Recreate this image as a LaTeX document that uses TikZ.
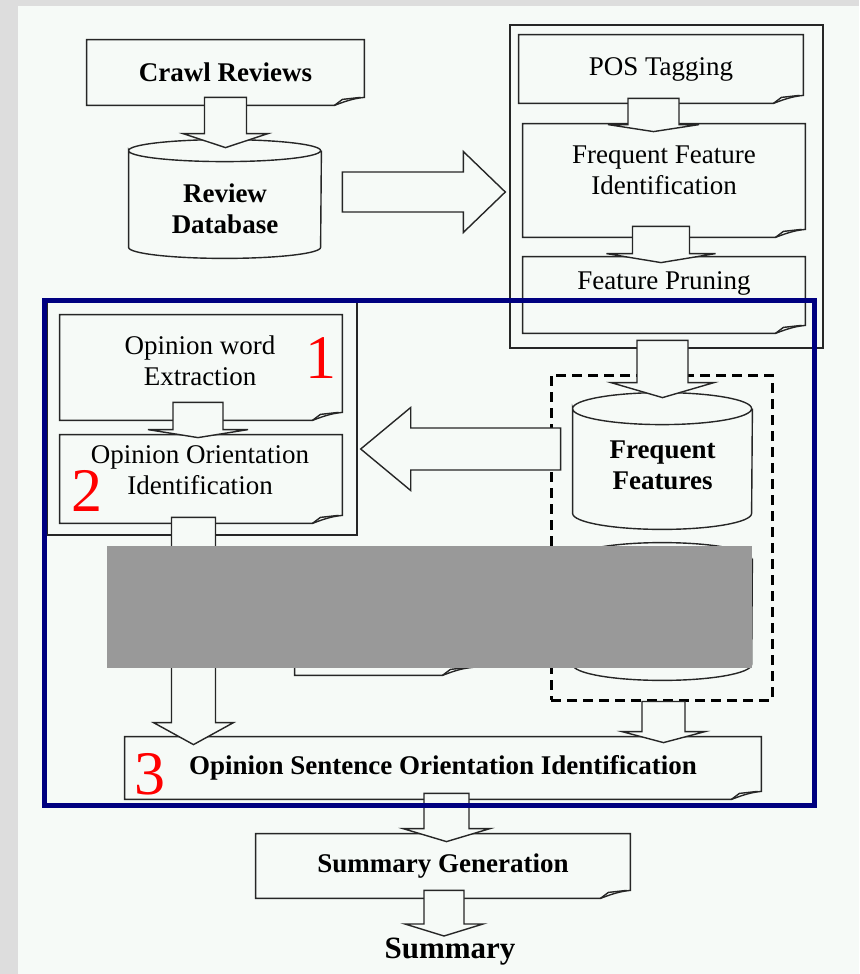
\documentclass[tikz,border=0pt]{standalone}
\usepackage{fontspec}
\setmainfont{Liberation Serif}
\usetikzlibrary{calc}
\definecolor{canvas}{RGB}{246,250,247}
\definecolor{frame}{RGB}{221,221,221}
\definecolor{navy}{RGB}{0,0,128}
\definecolor{maskgray}{RGB}{153,153,153}

\begin{document}
\begin{tikzpicture}[x=0.5pt, y=-0.5pt,
  every node/.style={font=\fontsize{13.5}{15.5}\selectfont, inner sep=0pt},
  ln/.style={draw=black!85, line width=0.7pt},
  doc/.style={minimum width=141pt},
  grp/.style={ln},
  txt/.style={align=center},
  num/.style={text=red, font=\fontsize{31}{31}\selectfont},
  blkv/.style n args={3}{ln, fill=canvas, to path={let \p1=(\tikztostart), \p2=(\tikztotarget) in
    (\x1-#1,\y1) -- (\x1-#1,\y2+#3) -- (\x1-#2,\y2+#3) -- (\x1,\y2) -- (\x1+#2,\y2+#3) -- (\x1+#1,\y2+#3) -- (\x1+#1,\y1) -- cycle}},
  blkh/.style n args={3}{ln, fill=canvas, to path={let \p1=(\tikztostart), \p2=(\tikztotarget) in
    (\x1,\y1-#1) -- ({\x2-(#3)},\y1-#1) -- ({\x2-(#3)},\y1-#2) -- (\x2,\y1) -- ({\x2-(#3)},\y1+#2) -- ({\x2-(#3)},\y1+#1) -- (\x1,\y1+#1) -- cycle}}]

\useasboundingbox (0,0) rectangle (859,974);
\fill[frame] (0,0) rectangle (859,974);
\fill[canvas] (18,6) rectangle (859,974);

% ---------------- left column ----------------
\node[doc, minimum width=138.5pt, minimum height=32.5pt] (crawl) at (225.5,72.5) {\bfseries Crawl Reviews};
\node[minimum width=96pt, minimum height=48pt] (db) at (225,199) {};
\node[txt] (dbt) at (225,208.5) {\bfseries Review\\\bfseries Database};

% ---------------- feature pipeline ----------------
\node[grp, minimum width=156.5pt, minimum height=161.5pt] (featbox) at (666.5,186.5) {};
\node[doc, minimum width=142pt, minimum height=34pt] (pos) at (661,69) {POS Tagging};
\node[doc, minimum height=56.5pt] (ffi) at (664,180.5) {};
\node[txt] (ffit) at (664,170) {Frequent Feature\\Identification};
\node[doc, minimum height=38pt] (fp) at (664,295) {};
\node[txt] (fpt) at (664,283) {Feature Pruning};

% ---------------- opinion words ----------------
\node[grp, minimum width=155pt, minimum height=117.5pt] (opgrp) at (202,417.5) {};
\node[doc, minimum height=52.5pt] (owe) at (201,367.5) {};
\node[txt] (owet) at (200,361) {Opinion word\\Extraction};
\node[doc, minimum height=44pt] (ooi) at (201,479) {};
\node[txt] (ooit) at (200,470) {Opinion Orientation\\Identification};
\node[doc, minimum width=88.5pt, minimum height=57.5pt] (hid) at (383.5,617.5) {};

% ---------------- frequent features ----------------
\node[draw, line width=1.5pt, dash pattern=on 5pt off 3pt, minimum width=110.5pt, minimum height=162.5pt] (ffgrp) at (661.5,537.5) {};
\node[minimum width=89.5pt, minimum height=52pt] (ff) at (662.5,461) {};
\node[txt] (fft) at (662.5,465) {\bfseries Frequent\\\bfseries Features};
\node[minimum width=89.5pt, minimum height=52.5pt] (ff2) at (662.5,611.5) {};

% ---------------- bottom ----------------
\node[doc, minimum width=318pt, minimum height=31pt] (osoi) at (443,768) {\bfseries Opinion Sentence Orientation Identification};
\node[doc, minimum width=187pt, minimum height=32pt] (sg) at (443,866) {\bfseries Summary Generation};
\node[font=\fontsize{15.5}{17}\selectfont] (summ) at (450,952) {\bfseries Summary};

% ---------------- outlines ----------------
\foreach \n in {crawl,pos,ffi,fp,owe,ooi,hid,osoi,sg}{
  \draw[ln] (\n.north west) -- (\n.north east) -- ([yshift=4pt]\n.south east)
    .. controls ([xshift=-6pt,yshift=3.5pt]\n.south east) and ([xshift=-11pt,yshift=1.5pt]\n.south east) .. ([xshift=-15pt]\n.south east)
    -- (\n.south west) -- cycle;
  \draw[ln] ([xshift=-15pt]\n.south east) -- ([xshift=-11pt,yshift=3pt]\n.south east) -- ([xshift=-2pt,yshift=4pt]\n.south east);
}
\foreach \n/\rx/\ry in {db/48pt/5.5pt, ff/44.75pt/8pt, ff2/44.75pt/8pt}{
  \draw[ln] (\n.north west) arc[start angle=180, end angle=-180, x radius=\rx, y radius=\ry]
    -- (\n.south west) arc[start angle=180, end angle=360, x radius=\rx, y radius=\ry] -- (\n.north east);
}

% ---------------- block arrows ----------------
\draw[blkv={10.5pt}{21.25pt}{7pt}] ([yshift=4pt]crawl.south) to ([yshift=1.5pt]db.north);
\draw[blkh={10pt}{20.25pt}{21pt}] ([xshift=10.5pt,yshift=3.5pt]db.east) to ([xshift=-2pt]featbox.west);
\draw[blkv={12.75pt}{22.75pt}{3.5pt}] ([xshift=-3.75pt,yshift=2.5pt]pos.south) to ([yshift=-4pt]ffi.north);
\draw[blkv={14.25pt}{27.25pt}{4.5pt}] ([xshift=-1.5pt,yshift=5.5pt]ffi.south) to ([yshift=-3pt]fp.north);
\draw[blkv={12.75pt}{25.75pt}{7.5pt}] ([xshift=-0.75pt,yshift=-3.5pt]fp.south) to ([yshift=5.5pt]ff.north);
\draw[blkh={10.5pt}{20.75pt}{-25pt}] ([xshift=-6pt,yshift=6pt]ff.west) to ([xshift=1.5pt]opgrp.east);
\draw[blkv={12.5pt}{25pt}{4pt}] ([xshift=-1.5pt,yshift=9pt]owe.south) to ([yshift=-1.5pt]ooi.north);
\draw[blkv={11pt}{20pt}{11pt}] ([xshift=-3.75pt,yshift=3pt]ooi.south) to ([yshift=-4pt]osoi.north);
\draw[blkv={10.75pt}{20.75pt}{5.5pt}] ([xshift=1pt]ffgrp.south) to ([yshift=-3pt]osoi.north);
\draw[blkv={11.25pt}{21.75pt}{6.5pt}] ([xshift=1.75pt,yshift=3pt]osoi.south) to ([yshift=-4pt]sg.north);
\draw[blkv={10pt}{19.5pt}{6pt}] ([xshift=0.5pt,yshift=4pt]sg.south) to ([yshift=8pt]summ.center);

% ---------------- mask, focus frame, numbers ----------------
\node[fill=maskgray, minimum width=322.5pt, minimum height=61pt] (mask) at (429.5,607) {};
\node[draw=navy, line width=2.5pt, minimum width=385pt, minimum height=252.5pt] (focus) at (429.5,552.5) {};
\node[num] (n1) at (320.5,358) {1};
\node[num] (n2) at (87,491) {2};
\node[num] (n3) at (150,774) {3};
\end{tikzpicture}
\end{document}
